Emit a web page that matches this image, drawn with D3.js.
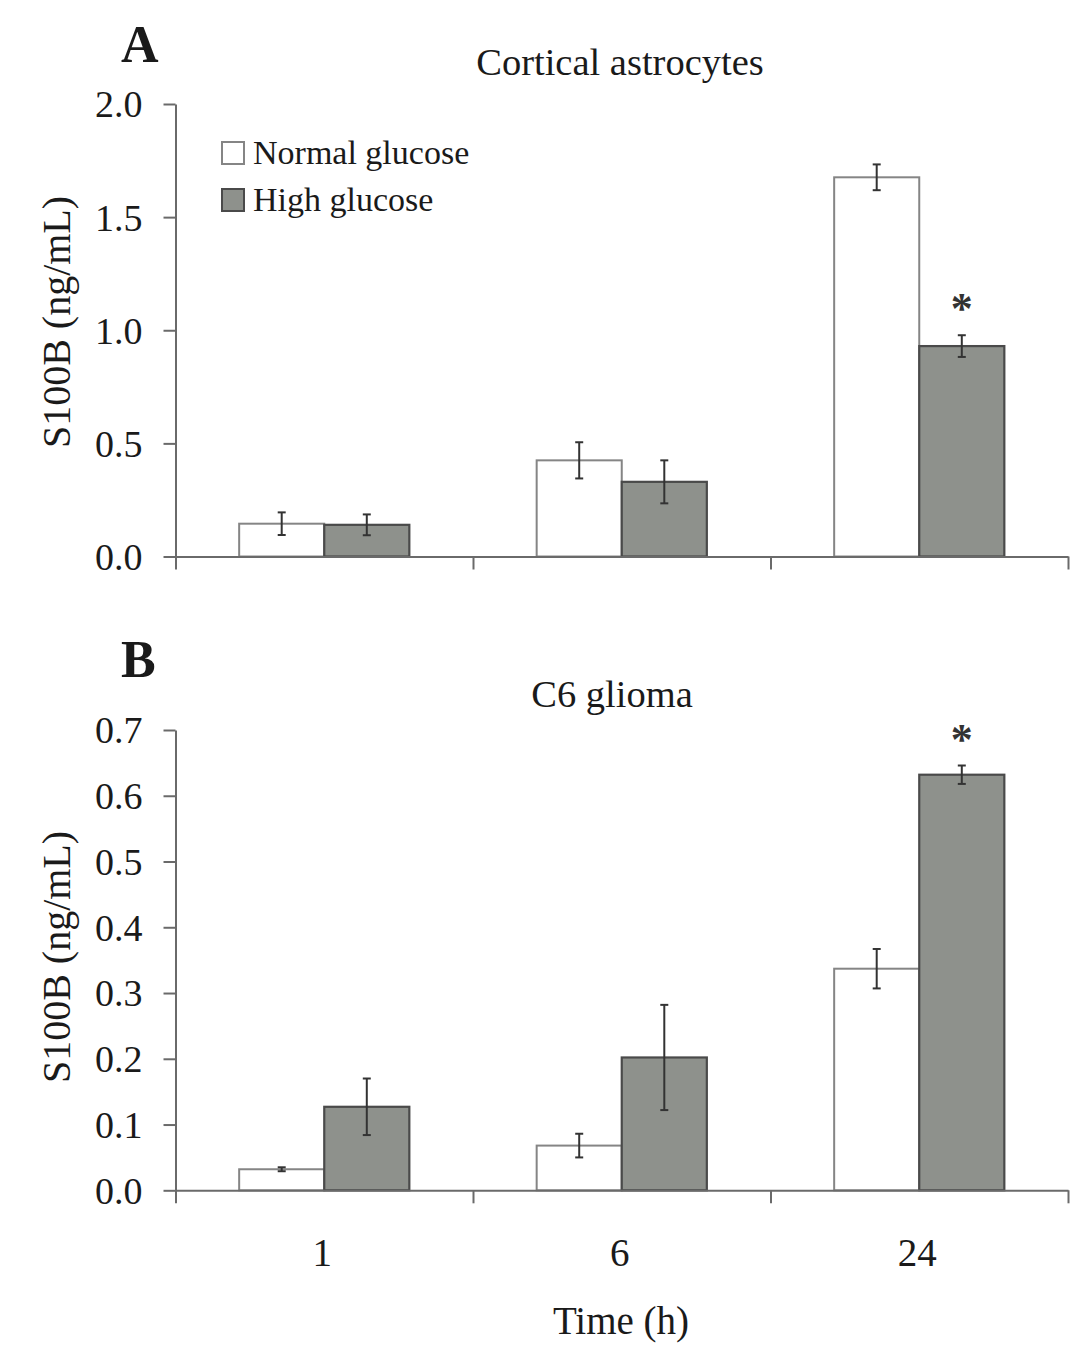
<!DOCTYPE html>
<html>
<head>
<meta charset="utf-8">
<script src="https://cdn.jsdelivr.net/npm/d3@7"></script>
<style>
  html, body { margin: 0; padding: 0; background: #ffffff; }
  svg text { font-family: "Liberation Serif", "Times New Roman", serif; fill: #1a1a1a; }
</style>
</head>
<body>
<svg id="chart" width="1073" height="1355"></svg>
<script>
// ---------- data ----------
const categories = ["1", "6", "24"];
const seriesNames = ["Normal glucose", "High glucose"];

const cortNormal    = [0.145, 0.425, 1.676];
const cortNormalErr = [0.050, 0.080, 0.057];
const cortHigh      = [0.140, 0.330, 0.930];
const cortHighErr   = [0.046, 0.095, 0.048];
const cortSig       = [false, false, true];
const cortTicks     = [0.0, 0.5, 1.0, 1.5, 2.0];

const c6Normal      = [0.032, 0.068, 0.337];
const c6NormalErr   = [0.003, 0.018, 0.030];
const c6High        = [0.127, 0.202, 0.632];
const c6HighErr     = [0.043, 0.080, 0.014];
const c6Sig         = [false, false, true];
const c6Ticks       = [0.0, 0.1, 0.2, 0.3, 0.4, 0.5, 0.6, 0.7];

const xTitle = "Time (h)";
const yTitle = "S100B (ng/mL)";

// ---------- style ----------
const fillColors   = ["#ffffff", "#8e918c"];
const strokeColors = ["#858585", "#4a4a4a"];
const axisColor = "#6a6a6a";

const svg = d3.select("#chart");
const xLeft = 175.5, xRight = 1068;

function drawPanel(o) {
  const g = svg.append("g");
  const y = d3.scaleLinear().domain([0, o.ymax]).range([o.yBottom, o.yTop]);
  const x = d3.scaleBand().domain(categories).range([xLeft, xRight])
      .paddingInner(0.428).paddingOuter(0.214);
  const xs = d3.scaleBand().domain(seriesNames).range([0, x.bandwidth()]);
  const xb = d3.scaleLinear().domain([0, categories.length]).range([xLeft, xRight]);

  const rows = categories.map((c, i) => ({
    cat: c,
    vals: [
      {s: seriesNames[0], v: o.normal[i], e: o.normalErr[i], k: 0, sig: false},
      {s: seriesNames[1], v: o.high[i], e: o.highErr[i], k: 1, sig: o.sig[i]}
    ]
  }));

  // bars
  const grp = g.selectAll(".grp").data(rows).join("g")
      .attr("transform", d => `translate(${x(d.cat)},0)`);
  grp.selectAll("rect").data(d => d.vals).join("rect")
      .attr("x", d => xs(d.s))
      .attr("y", d => y(d.v))
      .attr("width", xs.bandwidth())
      .attr("height", d => y(0) - y(d.v))
      .attr("fill", d => fillColors[d.k])
      .attr("stroke", d => strokeColors[d.k])
      .attr("stroke-width", d => d.k ? 2.2 : 2);

  // error bars
  const eb = grp.selectAll(".eb").data(d => d.vals).join("g").attr("class", "eb")
      .attr("transform", d => `translate(${xs(d.s) + xs.bandwidth() / 2},0)`);
  eb.append("line").attr("x1", 0).attr("x2", 0)
      .attr("y1", d => y(d.v - d.e)).attr("y2", d => y(d.v + d.e))
      .attr("stroke", "#333").attr("stroke-width", 2);
  eb.append("line").attr("x1", -4).attr("x2", 4)
      .attr("y1", d => y(d.v + d.e)).attr("y2", d => y(d.v + d.e))
      .attr("stroke", "#333").attr("stroke-width", 2);
  eb.append("line").attr("x1", -4).attr("x2", 4)
      .attr("y1", d => y(d.v - d.e)).attr("y2", d => y(d.v - d.e))
      .attr("stroke", "#333").attr("stroke-width", 2);
  eb.filter(d => d.sig).append("text")
      .attr("x", 0).attr("y", d => y(d.v + d.e) - 33 + 21)
      .attr("text-anchor", "middle").attr("font-size", 44)
      .attr("font-weight", "bold").style("fill", "#333").text("*");

  // y axis
  const ya = g.append("g").attr("transform", `translate(${xLeft},0)`)
      .call(d3.axisLeft(y).tickValues(o.ticks).tickFormat(d3.format(".1f"))
        .tickSize(12).tickSizeOuter(0).tickPadding(21));
  ya.selectAll("path,line").attr("stroke", axisColor).attr("stroke-width", 2);
  ya.selectAll("text").attr("font-size", 38).attr("font-family", "Liberation Serif, serif")
      .style("fill", "#1a1a1a").attr("dy", "0.34em");

  // x axis (group boundary ticks)
  const xa = g.append("g").attr("transform", `translate(0,${y(0)})`)
      .call(d3.axisBottom(xb).ticks(categories.length).tickFormat("").tickSize(13).tickSizeOuter(0));
  xa.selectAll("path,line").attr("stroke", axisColor).attr("stroke-width", 2);

  // y title
  g.append("text")
      .attr("transform", `translate(${o.yLabelX},${o.yLabelY}) rotate(-90)`)
      .attr("text-anchor", "middle").attr("font-size", 40).text(yTitle);

  // panel title + letter
  g.append("text").attr("x", o.titleX).attr("y", o.titleY)
      .attr("text-anchor", "middle").attr("font-size", 38.5).text(o.title);
  g.append("text").attr("x", o.letterX).attr("y", o.letterY)
      .attr("font-size", 52).attr("font-weight", "bold").text(o.letter);

  return {x, y};
}

drawPanel({
  normal: cortNormal, normalErr: cortNormalErr, high: cortHigh, highErr: cortHighErr,
  sig: cortSig, ticks: cortTicks, ymax: 2.0, yBottom: 556.5, yTop: 104,
  title: "Cortical astrocytes", titleX: 620, titleY: 75,
  letter: "A", letterX: 121, letterY: 62, yLabelX: 70, yLabelY: 322
});

const pB = drawPanel({
  normal: c6Normal, normalErr: c6NormalErr, high: c6High, highErr: c6HighErr,
  sig: c6Sig, ticks: c6Ticks, ymax: 0.7, yBottom: 1190.3, yTop: 730,
  title: "C6 glioma", titleX: 612, titleY: 707,
  letter: "B", letterX: 121, letterY: 677, yLabelX: 70, yLabelY: 957
});

// category labels under panel B
svg.append("g").selectAll("text").data(categories).join("text")
  .attr("x", d => pB.x(d) + pB.x.bandwidth() / 2 - 2)
  .attr("y", 1266)
  .attr("text-anchor", "middle").attr("font-size", 39).text(d => d);

svg.append("text").attr("x", 621).attr("y", 1334)
  .attr("text-anchor", "middle").attr("font-size", 39).text(xTitle);

// legend
const legend = svg.append("g").attr("transform", "translate(222,142)");
const li = legend.selectAll("g").data(seriesNames).join("g")
  .attr("transform", (d, i) => `translate(0,${i * 47})`);
li.append("rect").attr("width", 22).attr("height", 22)
  .attr("fill", (d, i) => fillColors[i]).attr("stroke", (d, i) => strokeColors[i]).attr("stroke-width", 2);
li.append("text").attr("x", 31).attr("y", 22).attr("font-size", 34).text(d => d);
</script>
</body>
</html>
